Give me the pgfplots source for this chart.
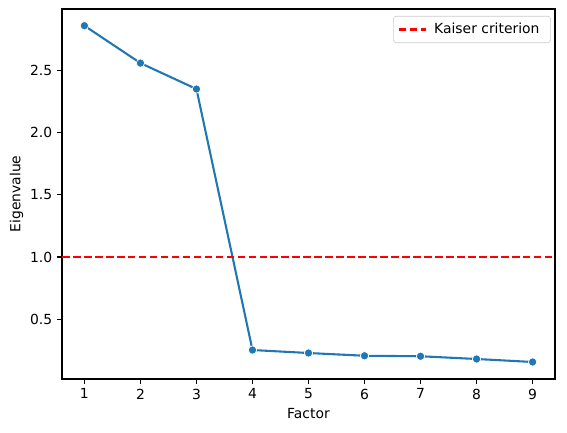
\documentclass[border=0pt]{standalone}
\usepackage{fontspec}
\setmainfont{DejaVu Sans}
\usepackage{pgfplots}
\pgfplotsset{compat=1.18}

\definecolor{sbblue}{RGB}{31,119,180}

\begin{document}
\begin{tikzpicture}
\begin{axis}[
    scale only axis,
    width=354.96pt, height=266.4pt,
    xmin=0.6, xmax=9.4,
    ymin=0.0214, ymax=2.99,
    xtick={1,...,9},
    ytick={0.5,1.0,1.5,2.0,2.5},
    yticklabel style={/pgf/number format/.cd, fixed, fixed zerofill, precision=1},
    /pgf/number format/assume math mode=true,
    tick label style={font=\fontsize{10}{12}\selectfont},
    label style={font=\fontsize{10}{12}\selectfont},
    xlabel={Factor},
    ylabel={Eigenvalue},
    ylabel style={yshift=-2pt},
    tick align=outside,
    tick pos=left,
    major tick length=3.5pt,
    every tick/.style={black, line width=0.8pt},
    axis line style={line width=0.8pt},
    legend style={at={(1,1)}, anchor=north east, xshift=-3pt, yshift=-5pt,
        draw=black!20, rounded corners=2pt, font=\fontsize{10}{12}\selectfont,
        inner sep=3pt, nodes={inner xsep=5pt}},
    legend cell align=left,
    legend image code/.code={\draw[#1] (0.05cm,0cm) -- (0.75cm,0cm);},
]
\addplot[sbblue, line width=1.5pt, mark=*, mark size=3pt,
    mark options={fill=sbblue, draw=white, line width=0.5pt}, forget plot]
    coordinates {(1,2.856) (2,2.556) (3,2.348) (4,0.254) (5,0.230)
                 (6,0.208) (7,0.204) (8,0.182) (9,0.158)};
\addplot[red, dashed, line width=1.5pt, dash pattern=on 5.5pt off 2.4pt]
    coordinates {(0.6,1) (9.4,1)};
\addlegendentry{Kaiser criterion}
\end{axis}
\path ([xshift=-44.64pt,yshift=-38.16pt]current axis.south west)
      rectangle ([xshift=8.64pt,yshift=6.48pt]current axis.north east);
\end{tikzpicture}
\end{document}
